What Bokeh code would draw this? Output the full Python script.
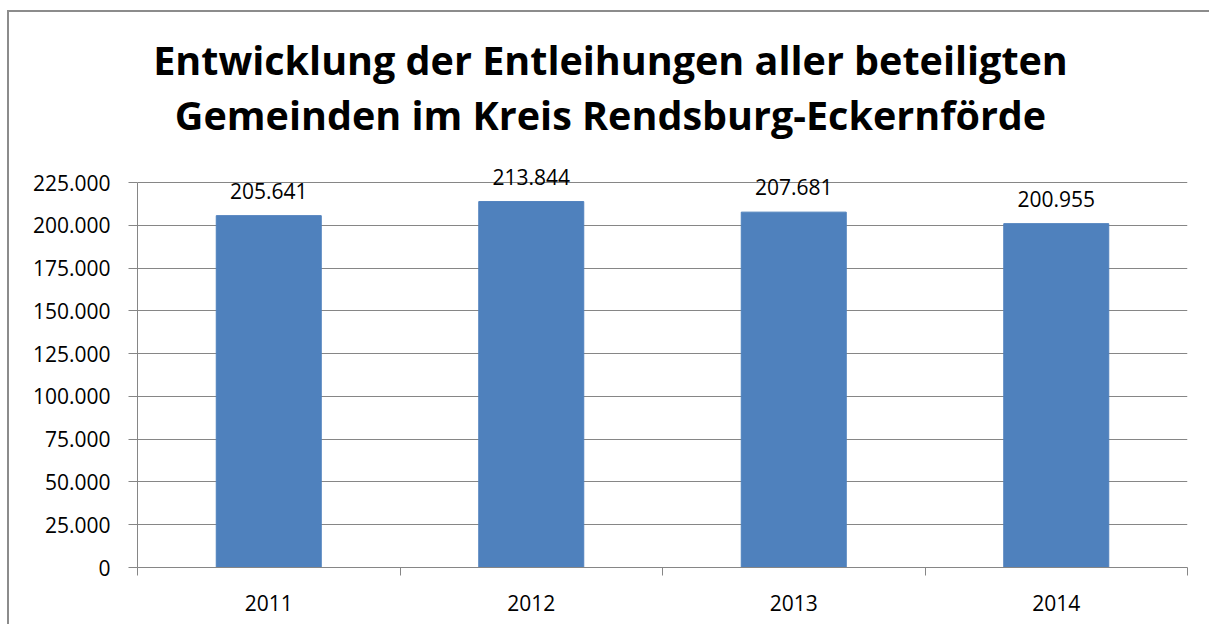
from bokeh.plotting import figure
from bokeh.models import (Range1d, FixedTicker, LinearAxis, Label, LabelSet,
                          CustomJSTickFormatter, ColumnDataSource)
from bokeh.embed import file_html
from bokeh.resources import INLINE
from bokeh.core.properties import value

title_lines = ["Entwicklung der Entleihungen aller beteiligten",
               "Gemeinden im Kreis Rendsburg-Eckernförde"]
years = ["2011", "2012", "2013", "2014"]
loans = [205641, 213844, 207681, 200955]
y_ticks = [0, 25000, 50000, 75000, 100000, 125000, 150000, 175000, 200000, 225000]

def de_fmt(v):
    return f"{v:,}".replace(",", ".")

n = len(years)
centers = [i + 0.5 for i in range(n)]
bounds = list(range(n + 1))
y_max = y_ticks[-1]

src = ColumnDataSource(dict(x=centers, y=loans, lab=[de_fmt(v) for v in loans]))

FONT = "Open Sans"
GRAY = "#868686"

# layout in pixels (page coordinates)
CONTENT_TOP = 12          # margin 10 + border 2
FRAME_TOP = CONTENT_TOP + 10
AXIS_TOP_PX = 182         # where the top tick (225.000) sits
FRAME_BOTTOM = 567
# the frame extends above the value axis to hold the title, so the
# visible y-range is stretched accordingly
y_top = y_max * (FRAME_BOTTOM - FRAME_TOP) / (FRAME_BOTTOM - AXIS_TOP_PX)

p = figure(x_range=Range1d(0, n), y_range=Range1d(0, y_top),
           width=1202, height=614, output_backend="svg", toolbar_location=None,
           x_axis_location=None, min_border_left=128, min_border_right=24,
           min_border_top=FRAME_TOP - CONTENT_TOP, min_border_bottom=59)
p.margin = (10, 0, 0, 7)
p.outline_line_color = None
p.styles = {"border-left": "2px solid #8c8c8c", "border-top": "2px solid #8c8c8c"}

p.vbar(x="x", top="y", width=0.4, source=src, fill_color="#4F81BD",
       line_color="#4F81BD")
p.add_layout(LabelSet(x="x", y="y", text="lab", source=src, text_align="center",
                      text_baseline="bottom", y_offset=17, text_font=value(FONT),
                      text_font_size=value("21px"), text_color=value("#000000")))

# y axis
ya = p.yaxis[0]
ya.ticker = FixedTicker(ticks=y_ticks)
ya.bounds = (0, y_max)
ya.formatter = CustomJSTickFormatter(code="""
return Math.round(tick).toString().replace(/\\B(?=(\\d{3})+(?!\\d))/g, ".");
""")
ya.axis_line_color = GRAY
ya.major_tick_line_color = GRAY
ya.major_tick_out = 9
ya.major_tick_in = 0
ya.minor_tick_line_color = None
ya.major_label_text_font = FONT
ya.major_label_text_font_size = "21px"
ya.major_label_text_color = "#000000"
ya.major_label_standoff = 18

p.ygrid.grid_line_color = GRAY
p.ygrid.ticker = FixedTicker(ticks=y_ticks)
p.xgrid.grid_line_color = None

# x axis: boundary ticks, then category labels at centres
tick_axis = LinearAxis(ticker=FixedTicker(ticks=bounds),
                       formatter=CustomJSTickFormatter(code='return "";'),
                       axis_line_color=GRAY, major_tick_line_color=GRAY,
                       major_tick_out=8, major_tick_in=0,
                       minor_tick_line_color=None, major_label_standoff=0)
cat_axis = LinearAxis(ticker=FixedTicker(ticks=centers),
                      major_label_overrides={c: y for c, y in zip(centers, years)},
                      axis_line_color=None, major_tick_line_color=None,
                      minor_tick_line_color=None,
                      major_label_text_font=FONT,
                      major_label_text_font_size="21px",
                      major_label_text_color="#000000",
                      major_label_standoff=13)
p.add_layout(tick_axis, "below")
p.add_layout(cat_axis, "below")

# two-line title as screen-positioned labels (relative to plot frame bottom-left)
TITLE_SHIFT = 16
for line, base in zip(title_lines, [75, 130]):
    p.add_layout(Label(x=473, y=FRAME_BOTTOM - base + TITLE_SHIFT,
                       x_units="screen", y_units="screen",
                       text=line, text_align="center", text_baseline="alphabetic",
                       text_font=FONT, text_font_style="bold",
                       text_font_size="39.5px", text_color="#000000"))

open("out.html", "w").write(file_html(p, INLINE))
